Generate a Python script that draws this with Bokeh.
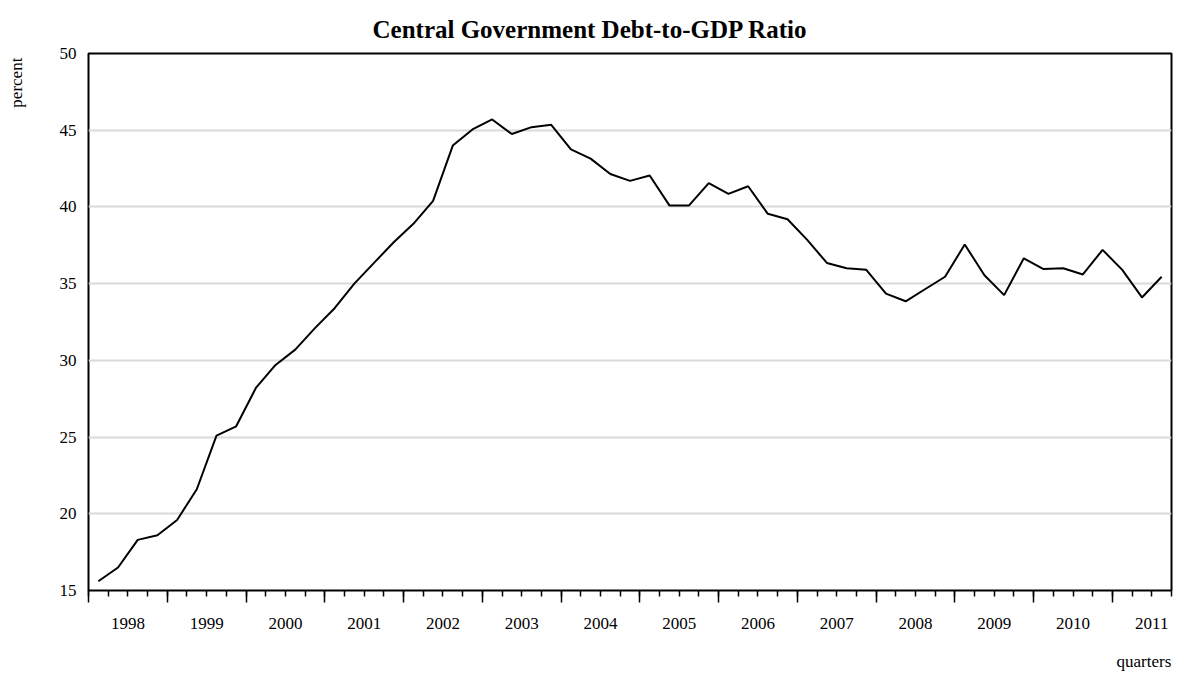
from bokeh.plotting import figure
from bokeh.models import (LinearAxis, FixedTicker, Range1d, ColumnDataSource)
from bokeh.embed import file_html
from bokeh.resources import INLINE

# ---- data ----
years = ["1998", "1999", "2000", "2001", "2002", "2003", "2004",
         "2005", "2006", "2007", "2008", "2009", "2010", "2011"]
debt_ratio = [
    15.6, 16.5, 18.3, 18.6, 19.6, 21.6, 25.1, 25.7,
    28.2, 29.7, 30.7, 32.1, 33.4, 35.0, 36.35, 37.7,
    38.9, 40.4, 44.0, 45.05, 45.7, 44.75, 45.2, 45.35,
    43.75, 43.15, 42.15, 41.7, 42.05, 40.1, 40.1, 41.55,
    40.85, 41.35, 39.55, 39.2, 37.85, 36.35, 36.0, 35.9,
    34.35, 33.85, 34.65, 35.45, 37.55, 35.55, 34.25, 36.65,
    35.95, 36.0, 35.6, 37.2, 35.9, 34.1, 35.45,
]
y_ticks = [15, 20, 25, 30, 35, 40, 45, 50]
quarters_per_year = 4
y_title = "percent"
x_title = "quarters"

FONT = "Liberation Serif"

# layout constants (where the axis titles sit, in axis units)
Y_TITLE_POS = 48.1
X_TITLE_POS = 53.6

n = len(debt_ratio)
xs = [i + 0.5 for i in range(n)]
src = ColumnDataSource(data=dict(x=xs, y=debt_ratio))

p = figure(width=1173, height=676, output_backend="svg", toolbar_location=None,
           x_range=Range1d(0, n), y_range=Range1d(y_ticks[0], y_ticks[-1]),
           x_axis_location=None, y_axis_location="left",
           min_border_left=88, min_border_right=2, min_border_top=53,
           min_border_bottom=86)

p.line("x", "y", source=src, line_color="black", line_width=2)

# frame
p.outline_line_color = "black"
p.outline_line_width = 2
p.background_fill_color = "white"
p.border_fill_color = "white"

# grid
p.xgrid.visible = False
p.ygrid.ticker = FixedTicker(ticks=y_ticks[1:-1])
p.ygrid.grid_line_color = "#d9d9d9"
p.ygrid.grid_line_width = 2


def bare(axis):
    axis.axis_line_color = None
    axis.major_tick_line_color = None
    axis.minor_tick_line_color = None
    axis.major_tick_out = 0
    axis.major_tick_in = 0
    axis.minor_tick_out = 0
    axis.minor_tick_in = 0
    axis.major_label_text_font = FONT
    axis.major_label_text_font_size = "17px"
    axis.major_label_text_color = "black"


# y axis
ya = p.yaxis[0]
ya.ticker = FixedTicker(ticks=y_ticks)
bare(ya)
ya.major_label_standoff = 12

# y axis title (outer axis with a single label)
yc = LinearAxis(ticker=FixedTicker(ticks=[Y_TITLE_POS], minor_ticks=[]))
bare(yc)
yc.major_label_overrides = {Y_TITLE_POS: y_title}
yc.major_label_orientation = "vertical"
yc.major_label_standoff = 30
p.add_layout(yc, "left")

# x axis with year boundary ticks and quarter ticks
year_bounds = [k * quarters_per_year for k in range(len(years))]
xa = LinearAxis(ticker=FixedTicker(ticks=year_bounds, minor_ticks=list(range(n + 1))))
xa.axis_line_color = None
xa.major_tick_line_color = "black"
xa.major_tick_line_width = 1.5
xa.major_tick_out = 12
xa.major_tick_in = 0
xa.minor_tick_line_color = "black"
xa.minor_tick_line_width = 1.5
xa.minor_tick_out = 6
xa.minor_tick_in = 0
xa.major_label_text_font_size = "0px"
xa.major_label_text_color = None
xa.major_label_standoff = 0
p.add_layout(xa, "below")

# x axis with year labels at centers
centers = [k * quarters_per_year + quarters_per_year / 2 for k in range(len(years))]
xb = LinearAxis(ticker=FixedTicker(ticks=centers, minor_ticks=[]))
bare(xb)
xb.major_label_overrides = {c: y for c, y in zip(centers, years)}
xb.major_label_standoff = 15
p.add_layout(xb, "below")

# x axis title (outer axis with a single label)
xc = LinearAxis(ticker=FixedTicker(ticks=[X_TITLE_POS], minor_ticks=[]))
bare(xc)
xc.major_label_overrides = {X_TITLE_POS: x_title}
xc.major_label_standoff = 20
p.add_layout(xc, "below")

# title
p.title.text = "Central Government Debt-to-GDP Ratio"
p.title.text_font = FONT
p.title.text_font_size = "25px"
p.title.text_font_style = "bold"
p.title.text_color = "black"
p.title.align = "left"
p.title.offset = 284
p.title.standoff = 21

open("out.html", "w").write(file_html(p, INLINE))
